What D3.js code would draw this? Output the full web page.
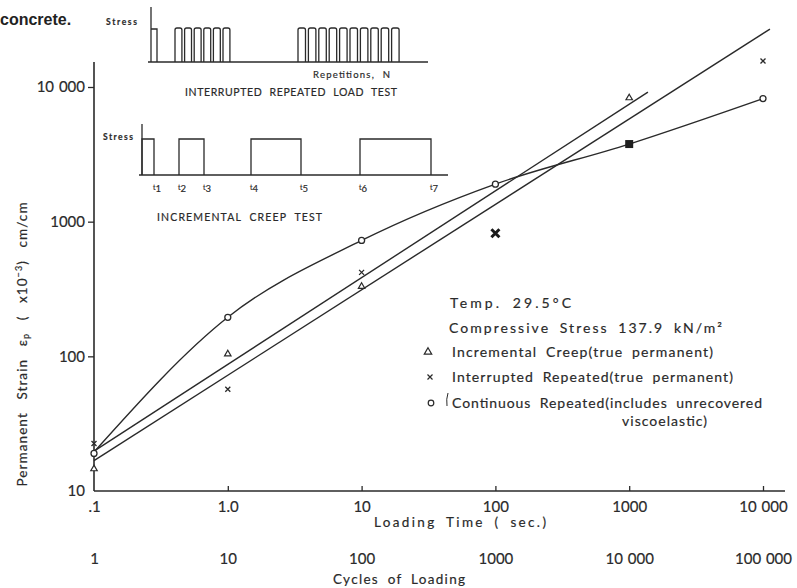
<!DOCTYPE html>
<html><head><meta charset="utf-8">
<script src="https://cdn.jsdelivr.net/npm/d3@7"></script>
<style>
body{margin:0;background:#fff}
svg{display:block}
text{font-family:Lato,"DejaVu Sans",sans-serif;fill:#2a2a2a;stroke:#2a2a2a;stroke-width:0.18px;word-spacing:4px}
.tick text{word-spacing:1px}
</style>
</head><body>
<svg id="c" width="797" height="588"></svg>
<script>
// ---------- data ----------
const timeTicks = [0.1, 1, 10, 100, 1000, 10000];
const timeTickLabels = [".1", "1.0", "10", "100", "1000", "10 000"];
const cycleTickLabels = ["1", "10", "100", "1000", "10 000", "100 000"];
const strainTicks = [10, 100, 1000, 10000];
const strainTickLabels = ["10", "100", "1000", "10 000"];

// Incremental creep (true permanent) – triangles
const creepTimes = [0.1, 1, 10, 1000];
const creepStrain = [14.6, 104, 330, 8300];
// Interrupted repeated (true permanent) – crosses
const interruptedTimes = [0.1, 1, 10, 10000];
const interruptedStrain = [22.5, 57, 420, 15600];
const interruptedBoldTimes = [100];
const interruptedBoldStrain = [820];
// Continuous repeated – circles
const continuousTimes = [0.1, 1, 10, 100, 10000];
const continuousStrain = [19, 195, 725, 1900, 8200];
// coincident points (filled square)
const overlapTimes = [1000];
const overlapStrain = [3770];
// fitted curves
const continuousCurveTimes = [0.1, 1, 10, 100, 1000, 10000];
const continuousCurveStrain = [19.5, 195, 725, 1900, 3770, 8200];
const creepFitTimes = [0.1, 1380];
const creepFitStrain = [19.8, 9170];
const interruptedFitTimes = [0.1, 11270];
const interruptedFitStrain = [16.8, 26900];

// schematic: incremental creep test (t0..t7 in schematic time units)
const creepEventTimes = [0, 12, 37, 62, 109, 159, 218, 289];
const creepEventLabels = ["1", "2", "3", "4", "5", "6", "7"];
// schematic: interrupted repeated load test
const blockStartN = [24, 147];
const blockPulseCount = [6, 10];
const blockPulseSpacing = [9.6, 10.4];
const firstPulseN = [0, 6];

// ---------- drawing ----------
const ink = "#2a2a2a";
const svg = d3.select("#c");
const x = d3.scaleLog().domain([0.1, 10000]).range([94, 763]);
const y = d3.scaleLog().domain([10, 10000]).range([491, 87]);
const zip = (a, b) => a.map((t, i) => ({t, v: b[i]}));

// caption fragment
svg.append("text").attr("x", 0).attr("y", 25)
  .style("font-family", "'Liberation Sans',Arial,sans-serif").style("font-weight", "bold")
  .style("font-size", "16px").style("fill", "#222").style("stroke", "none").text("concrete.");

// axes lines
svg.append("line").attr("x1", 94).attr("x2", 94).attr("y1", 62).attr("y2", 491)
  .attr("stroke", ink).attr("stroke-width", 1.6);
svg.append("line").attr("x1", 94).attr("x2", 785).attr("y1", 491).attr("y2", 491)
  .attr("stroke", ink).attr("stroke-width", 1.6);

// x axis (loading time)
const xa = svg.append("g").attr("transform", "translate(0,491)")
  .call(d3.axisBottom(x).tickValues(timeTicks).tickFormat((d, i) => timeTickLabels[i])
    .tickSizeInner(-5).tickSizeOuter(0).tickPadding(10));
xa.select(".domain").remove();
xa.selectAll(".tick line").attr("stroke", ink).attr("stroke-width", 1.3)
  .filter((d, i) => i === 0).remove();
xa.selectAll("text").style("font-size", "15px").style("fill", ink).attr("font-family", null);

// second x axis (cycles)
const xa2 = svg.append("g").attr("transform", "translate(0,553)")
  .call(d3.axisBottom(x).tickValues(timeTicks).tickFormat((d, i) => cycleTickLabels[i])
    .tickSize(0).tickPadding(0));
xa2.select(".domain").remove();
xa2.selectAll(".tick line").remove();
xa2.selectAll("text").style("font-size", "15px").style("fill", ink).attr("font-family", null);

// y axis
const ya = svg.append("g").attr("transform", "translate(94,0)")
  .call(d3.axisLeft(y).tickValues(strainTicks).tickFormat((d, i) => strainTickLabels[i])
    .tickSizeInner(6).tickSizeOuter(0).tickPadding(3));
ya.select(".domain").remove();
ya.selectAll(".tick line").attr("stroke", ink).attr("stroke-width", 1.3)
  .filter((d, i) => i === 0).remove();
ya.selectAll("text").style("font-size", "15px").style("fill", ink).attr("font-family", null);

// axis titles
svg.append("text").attr("x", 460).attr("y", 527).attr("text-anchor", "middle")
  .style("font-size", "13.5px").attr("textLength", 172).attr("lengthAdjust", "spacing")
  .text("Loading  Time  ( sec.)");
svg.append("text").attr("x", 399).attr("y", 584).attr("text-anchor", "middle")
  .style("font-size", "13.5px").attr("textLength", 132).attr("lengthAdjust", "spacing")
  .text("Cycles  of  Loading");
const yt = svg.append("text").attr("transform", "translate(27,344) rotate(-90)")
  .attr("text-anchor", "middle").style("font-size", "13.5px").style("letter-spacing", "1.1px")
  .style("word-spacing", "8px");
yt.append("tspan").text("Permanent  Strain  ε");
yt.append("tspan").attr("baseline-shift", "-25%").style("font-size", "9px").text("p");
yt.append("tspan").text("  ( x10");
yt.append("tspan").attr("baseline-shift", "super").style("font-size", "9px").text("−3");
yt.append("tspan").text(")  cm/cm");

// fitted lines
const line = d3.line().x(d => x(d.t)).y(d => y(d.v));
svg.append("path").attr("d", line(zip(creepFitTimes, creepFitStrain)))
  .attr("fill", "none").attr("stroke", ink).attr("stroke-width", 1.4);
svg.append("path").attr("d", line(zip(interruptedFitTimes, interruptedFitStrain)))
  .attr("fill", "none").attr("stroke", ink).attr("stroke-width", 1.4);
svg.append("path").attr("d", line.curve(d3.curveMonotoneX)(zip(continuousCurveTimes, continuousCurveStrain)))
  .attr("fill", "none").attr("stroke", ink).attr("stroke-width", 1.4);

// markers
const triSym = d3.symbol(d3.symbolTriangle, 18);
svg.selectAll(".tri").data(zip(creepTimes, creepStrain)).join("path")
  .attr("transform", d => `translate(${x(d.t)},${y(d.v)})`).attr("d", triSym)
  .attr("fill", "#fff").attr("stroke", ink).attr("stroke-width", 1.2);
const crossPath = s => `M${-s},${-s}L${s},${s}M${-s},${s}L${s},${-s}`;
svg.selectAll(".crs").data(zip(interruptedTimes, interruptedStrain)).join("path")
  .attr("transform", d => `translate(${x(d.t)},${y(d.v)})`).attr("d", crossPath(2.5))
  .attr("fill", "none").attr("stroke", ink).attr("stroke-width", 1.3);
svg.selectAll(".bcrs").data(zip(interruptedBoldTimes, interruptedBoldStrain)).join("path")
  .attr("transform", d => `translate(${x(d.t)},${y(d.v)})`).attr("d", crossPath(4))
  .attr("fill", "none").attr("stroke", "#1a1a1a").attr("stroke-width", 3);
svg.selectAll(".circ").data(zip(continuousTimes, continuousStrain)).join("circle")
  .attr("cx", d => x(d.t)).attr("cy", d => y(d.v)).attr("r", 3)
  .attr("fill", "#fff").attr("stroke", ink).attr("stroke-width", 1.3);
svg.selectAll(".sq").data(zip(overlapTimes, overlapStrain)).join("rect")
  .attr("x", d => x(d.t) - 4).attr("y", d => y(d.v) - 4).attr("width", 8).attr("height", 8)
  .attr("fill", "#1e1e1e");

// legend / annotation
function ltext(xp, yp, w, str, size) {
  return svg.append("text").attr("x", xp).attr("y", yp).style("font-size", (size || 14) + "px")
    .attr("textLength", w).attr("lengthAdjust", "spacing").text(str);
}
ltext(450, 308, 121, "Temp.  29.5°C");
ltext(449, 333, 273, "Compressive  Stress  137.9  kN/m²");
ltext(452, 357, 261, "Incremental  Creep(true  permanent)");
ltext(452, 382, 281, "Interrupted  Repeated(true  permanent)");
ltext(452, 408, 310, "Continuous  Repeated(includes  unrecovered");
ltext(622, 426, 85, "viscoelastic)");
svg.append("path").attr("transform", "translate(428,352)").attr("d", d3.symbol(d3.symbolTriangle, 24)())
  .attr("fill", "none").attr("stroke", ink).attr("stroke-width", 1.2);
svg.append("path").attr("transform", "translate(430,377)").attr("d", crossPath(2.5))
  .attr("fill", "none").attr("stroke", ink).attr("stroke-width", 1.2);
svg.append("circle").attr("cx", 431).attr("cy", 403).attr("r", 2.8)
  .attr("fill", "none").attr("stroke", ink).attr("stroke-width", 1.2);
svg.append("path").attr("d", "M448,393 Q446,399 447,406").attr("fill", "none")
  .attr("stroke", ink).attr("stroke-width", 1);

// ---------- inset: interrupted repeated load test ----------
const ix = d3.scaleLinear().domain([0, 277]).range([151, 428]);
const iy = d3.scaleLinear().domain([0, 1]).range([62, 28]);
const inset1 = svg.append("g").attr("fill", "none").attr("stroke", ink).attr("stroke-width", 1.3);
inset1.append("line").attr("x1", ix(0)).attr("x2", ix(0)).attr("y1", 7).attr("y2", iy(0));
inset1.append("line").attr("x1", ix(0) - 3).attr("x2", ix(277)).attr("y1", iy(0)).attr("y2", iy(0));
inset1.append("path").attr("d", `M${ix(firstPulseN[0])},${iy(1) + 1}H${ix(firstPulseN[1])}V${iy(0)}`);
const pulses = [];
blockStartN.forEach((s, b) => {
  for (let k = 0; k < blockPulseCount[b]; k++) {
    const a = s + k * blockPulseSpacing[b];
    pulses.push([a, a + blockPulseSpacing[b] * 0.72]);
  }
});
inset1.selectAll("path.p").data(pulses).join("path").attr("class", "p")
  .attr("d", d => {
    const x0 = ix(d[0]), x1 = ix(d[1]), t = iy(1), b = iy(0);
    return `M${x0},${b}V${t + 2}Q${x0},${t} ${x0 + 2},${t}H${x1 - 2}Q${x1},${t} ${x1},${t + 2}V${b}`;
  });
svg.append("text").attr("x", 106).attr("y", 25).style("font-size", "8.5px").style("font-weight", "bold")
  .attr("textLength", 31).attr("lengthAdjust", "spacing").text("Stress");
svg.append("text").attr("x", 313).attr("y", 78).style("font-size", "9.5px")
  .attr("textLength", 77).attr("lengthAdjust", "spacing").text("Repetitions,  N");
svg.append("text").attr("x", 185).attr("y", 96).style("font-size", "10.5px")
  .attr("textLength", 212).attr("lengthAdjust", "spacing").text("INTERRUPTED  REPEATED  LOAD  TEST");

// ---------- inset: incremental creep test ----------
const cx = d3.scaleLinear().domain([0, 306]).range([142, 448]);
const cy = d3.scaleLinear().domain([0, 1]).range([175, 139]);
const inset2 = svg.append("g").attr("fill", "none").attr("stroke", ink).attr("stroke-width", 1.3);
inset2.append("line").attr("x1", cx(0)).attr("x2", cx(0)).attr("y1", 124).attr("y2", cy(0));
inset2.append("line").attr("x1", cx(0) - 3).attr("x2", cx(306)).attr("y1", cy(0)).attr("y2", cy(0));
const creepPulses = [];
for (let k = 0; k < creepEventTimes.length; k += 2) creepPulses.push([creepEventTimes[k], creepEventTimes[k + 1]]);
inset2.selectAll("path.c").data(creepPulses).join("path").attr("class", "c")
  .attr("d", d => `M${cx(d[0])},${cy(0)}V${cy(1)}H${cx(d[1])}V${cy(0)}`);
svg.append("text").attr("x", 103).attr("y", 140).style("font-size", "8.5px").style("font-weight", "bold")
  .attr("textLength", 30).attr("lengthAdjust", "spacing").text("Stress");
const tl = svg.append("g").selectAll("text").data(creepEventTimes.slice(1)).join("text")
  .attr("x", d => cx(d) - 1).attr("y", 192).style("font-size", "9.5px");
tl.append("tspan").style("font-size", "7px").attr("baseline-shift", "30%").text("t");
tl.append("tspan").text((d, i) => creepEventLabels[i]);
svg.append("text").attr("x", 157).attr("y", 221).style("font-size", "10.5px")
  .attr("textLength", 165).attr("lengthAdjust", "spacing").text("INCREMENTAL  CREEP  TEST");
</script>
</body></html>
